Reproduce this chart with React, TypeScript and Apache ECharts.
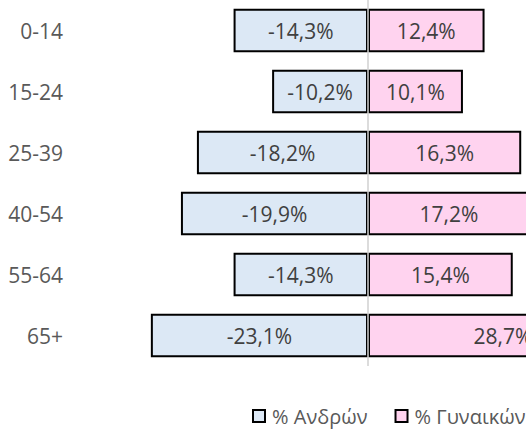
import React, { useEffect, useRef } from "react";
import * as echarts from "echarts";

const categories = ["0-14", "15-24", "25-39", "40-54", "55-64", "65+"];
const maleValues = [-14.3, -10.2, -18.2, -19.9, -14.3, -23.1];
const femaleValues = [12.4, 10.1, 16.3, 17.2, 15.4, 28.7];
const seriesNames = ["% Ανδρών", "% Γυναικών"];

const fmt = (v: number) => v.toFixed(1).replace(".", ",") + "%";

export default function App() {
  const ref = useRef<HTMLDivElement>(null);
  useEffect(() => {
    document.body.style.margin = "0";
    const chart = echarts.init(ref.current!, undefined, { renderer: "svg" });
    const font = "'Open Sans', sans-serif";
    const label = {
      show: true,
      position: "inside",
      color: "#404040",
      fontFamily: font,
      fontSize: 21,
      formatter: (p: any) => fmt(p.value),
    };
    chart.setOption({
      animation: false,
      grid: { left: 133, top: 0, width: 517, height: 366, outerBoundsMode: "none", containLabel: false },
      legend: {
        left: 247,
        top: 401,
        width: 500,
        padding: 5,
        icon: "rect",
        itemWidth: 12,
        itemHeight: 12,
        itemGap: 27,
        textStyle: { color: "#595959", fontFamily: font, fontSize: 20, lineHeight: 20, padding: [0, 0, 0, 2] },
        data: seriesNames,
      },
      xAxis: {
        type: "value",
        min: -25,
        max: 30,
        show: false,
        splitLine: { show: false },
      },
      yAxis: {
        type: "category",
        data: categories,
        inverse: true,
        axisLine: { show: false },
        axisTick: { show: false },
        axisLabel: {
          margin: 70,
          color: "#595959",
          fontFamily: font,
          fontSize: 21,
        },
      },
      series: [
        {
          name: seriesNames[0],
          type: "bar",
          data: maleValues,
          barCategoryGap: "29%",
          barGap: "-100%",
          itemStyle: { color: "#dce8f5", borderColor: "#000000", borderWidth: 2 },
          label,
          markLine: {
            silent: true,
            symbol: "none",
            label: { show: false },
            lineStyle: { color: "#d0d0d0", width: 1.5, type: "solid" },
            data: [{ xAxis: 0 }],
          },
        },
        {
          name: seriesNames[1],
          type: "bar",
          data: femaleValues,
          barCategoryGap: "29%",
          barGap: "-100%",
          itemStyle: { color: "#ffd3ef", borderColor: "#000000", borderWidth: 2 },
          label,
        },
      ],
    });
    return () => chart.dispose();
  }, []);
  return <div ref={ref} style={{ width: 526, height: 430 }} />;
}
